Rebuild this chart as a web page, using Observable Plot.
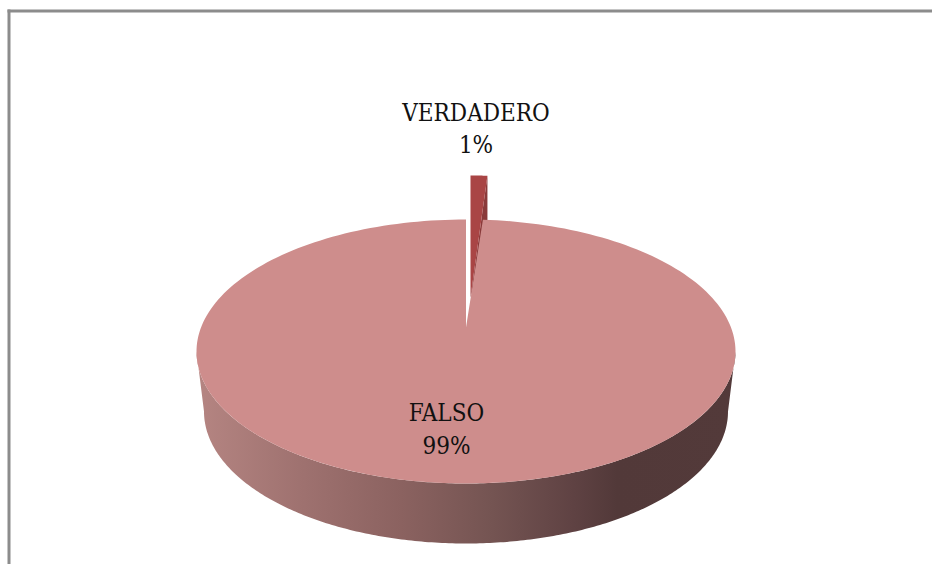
<!DOCTYPE html>
<html>
<head>
<meta charset="utf-8">
<script src="https://cdn.jsdelivr.net/npm/d3@7"></script>
<script src="https://cdn.jsdelivr.net/npm/@observablehq/plot@0.6"></script>
<style>
  html, body { margin: 0; padding: 0; background: #fff; }
  svg { display: block; }
  text { font-stretch: condensed; }
</style>
</head>
<body>
<div id="chart"></div>
<script>
// Data
const categories = ["FALSO", "VERDADERO"];
const shares = [99, 1];

// Pie projection, in chart pixels
const W = 932, H = 564;
const cx = 465.5, cy = 351, rx = 269.5, ry = 132;
const apexY = 327, depth = 60, bottomRx = 262;
const explode = {dx: 4.5, dy: -44, apexDy: -30};
const wedge = (shares[1] / d3.sum(shares)) * 2 * Math.PI;

const rim = (t, o = {}) => ({
  x: cx + (o.rx ?? rx) * Math.sin(t) + (o.dx ?? 0),
  y: cy - ry * Math.cos(t) + (o.dy ?? 0)
});
const sweep = (a, b, n = 240) => d3.range(n + 1).map(i => a + (b - a) * i / n);

// FALSO top face
const falsoTop = [...sweep(wedge, 2 * Math.PI).map(t => rim(t)), {x: cx, y: apexY}];

// Cylinder wall of the large slice (front half)
const wall = [
  ...sweep(Math.PI / 2, 3 * Math.PI / 2).map(t => rim(t)),
  ...sweep(3 * Math.PI / 2, Math.PI / 2).map(t => rim(t, {rx: bottomRx, dy: depth}))
];

// VERDADERO exploded slice
const vRim = sweep(0, wedge, 12).map(t => rim(t, explode));
const vApex = {x: cx + explode.dx, y: apexY + explode.apexDy};
const vEnd = vRim[vRim.length - 1];
const verdaderoTop = [vApex, ...vRim];
const verdaderoSide = [vEnd, {x: vEnd.x, y: vEnd.y + depth}, vApex];

// Labels
const labels = [
  {text: `${categories[1]}\n${shares[1]}%`, x: 475.5, y: 126},
  {text: `${categories[0]}\n${shares[0]}%`, x: 446, y: 426.5}
];

const sideStops = [
  [0, "#b58582"], [0.2, "#9e716f"], [0.38, "#8b6260"], [0.55, "#745452"],
  [0.7, "#5f4243"], [0.78, "#523939"], [1, "#533a3a"]
];

function gradientDefs() {
  const defs = d3.create("svg:defs");
  const g = defs.append("linearGradient").attr("id", "side")
    .attr("x1", 0).attr("x2", 1).attr("y1", 0).attr("y2", 0);
  for (const [o, c] of sideStops) g.append("stop").attr("offset", o).attr("stop-color", c);
  return defs.node();
}

const chart = Plot.plot({
  width: W,
  height: H,
  marginLeft: 8.5,
  marginTop: 10.5,
  marginRight: 0,
  marginBottom: 0,
  style: {background: "#fff"},
  x: {domain: [0, W], range: [0, W], axis: null},
  y: {domain: [0, H], range: [0, H], axis: null},
  marks: [
    gradientDefs,
    Plot.frame({anchor: "left", stroke: "#8c8c8c", strokeWidth: 3, strokeOpacity: 1}),
    Plot.frame({anchor: "top", stroke: "#8c8c8c", strokeWidth: 3, strokeOpacity: 1}),
    Plot.line(wall, {x: "x", y: "y", fill: "url(#side)", stroke: "none"}),
    Plot.line(verdaderoSide, {x: "x", y: "y", fill: "#8a3a3a", stroke: "none"}),
    Plot.line(verdaderoTop, {x: "x", y: "y", fill: "#a94545", stroke: "none"}),
    Plot.line(falsoTop, {x: "x", y: "y", fill: "#ce8d8c", stroke: "none"}),
    Plot.text(labels, {
      x: "x", y: "y", text: "text",
      fontFamily: "DejaVu Serif", fontSize: 24, lineHeight: 1.37,
      textAnchor: "middle", fill: "#111"
    })
  ]
});
document.getElementById("chart").append(chart);
</script>
</body>
</html>
